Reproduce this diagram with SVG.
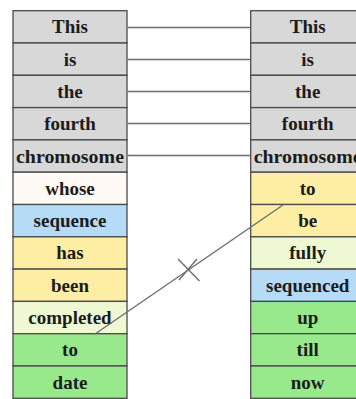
<svg xmlns="http://www.w3.org/2000/svg" width="356" height="399" viewBox="0 0 356 399">
<style>
rect{stroke:#4a4a4a;stroke-width:1.3}
.g{fill:#d8d8d8}.w{fill:#fffaf3}.b{fill:#b6dbf6}.y{fill:#fdeea4}.l{fill:#eef9d3}.n{fill:#97e98c}
text{font-family:"Liberation Serif","Times New Roman",serif;font-weight:bold;font-size:19px;fill:#1c1c1c;text-anchor:middle}
.c line{stroke:#6e6e6e;stroke-width:1.4}
</style>
<rect width="356" height="399" fill="#ffffff" style="stroke:none"/>
<g id="left">
<g id="L1"><rect class="g" x="13" y="10.7" width="114" height="32.3"/><text x="70" y="33.3">This</text></g>
<g id="L2"><rect class="g" x="13" y="43" width="114" height="32.3"/><text x="70" y="65.6">is</text></g>
<g id="L3"><rect class="g" x="13" y="75.3" width="114" height="32.3"/><text x="70" y="97.9">the</text></g>
<g id="L4"><rect class="g" x="13" y="107.6" width="114" height="32.3"/><text x="70" y="130.2">fourth</text></g>
<g id="L5"><rect class="g" x="13" y="139.9" width="114" height="32.3"/><text x="70" y="162.5" textLength="108" lengthAdjust="spacingAndGlyphs">chromosome</text></g>
<g id="L6"><rect class="w" x="13" y="172.2" width="114" height="32.3"/><text x="70" y="194.8">whose</text></g>
<g id="L7"><rect class="b" x="13" y="204.5" width="114" height="32.3"/><text x="70" y="227.1">sequence</text></g>
<g id="L8"><rect class="y" x="13" y="236.8" width="114" height="32.3"/><text x="70" y="259.4">has</text></g>
<g id="L9"><rect class="y" x="13" y="269.1" width="114" height="32.3"/><text x="70" y="291.7">been</text></g>
<g id="L10"><rect class="l" x="13" y="301.4" width="114" height="32.3"/><text x="70" y="324">completed</text></g>
<g id="L11"><rect class="n" x="13" y="333.7" width="114" height="32.3"/><text x="70" y="356.3">to</text></g>
<g id="L12"><rect class="n" x="13" y="366" width="114" height="32.3"/><text x="70" y="388.6">date</text></g>
</g>
<g id="right">
<g id="R1"><rect class="g" x="250.7" y="10.7" width="114" height="32.3"/><text x="307.7" y="33.3">This</text></g>
<g id="R2"><rect class="g" x="250.7" y="43" width="114" height="32.3"/><text x="307.7" y="65.6">is</text></g>
<g id="R3"><rect class="g" x="250.7" y="75.3" width="114" height="32.3"/><text x="307.7" y="97.9">the</text></g>
<g id="R4"><rect class="g" x="250.7" y="107.6" width="114" height="32.3"/><text x="307.7" y="130.2">fourth</text></g>
<g id="R5"><rect class="g" x="250.7" y="139.9" width="114" height="32.3"/><text x="307.7" y="162.5" textLength="108" lengthAdjust="spacingAndGlyphs">chromosome</text></g>
<g id="R6"><rect class="y" x="250.7" y="172.2" width="114" height="32.3"/><text x="307.7" y="194.8">to</text></g>
<g id="R7"><rect class="y" x="250.7" y="204.5" width="114" height="32.3"/><text x="307.7" y="227.1">be</text></g>
<g id="R8"><rect class="l" x="250.7" y="236.8" width="114" height="32.3"/><text x="307.7" y="259.4">fully</text></g>
<g id="R9"><rect class="b" x="250.7" y="269.1" width="114" height="32.3"/><text x="307.7" y="291.7">sequenced</text></g>
<g id="R10"><rect class="n" x="250.7" y="301.4" width="114" height="32.3"/><text x="307.7" y="324">up</text></g>
<g id="R11"><rect class="n" x="250.7" y="333.7" width="114" height="32.3"/><text x="307.7" y="356.3">till</text></g>
<g id="R12"><rect class="n" x="250.7" y="366" width="114" height="32.3"/><text x="307.7" y="388.6">now</text></g>
</g>
<g id="connectors" class="c">
<line x1="127.6" y1="27.5" x2="250" y2="27.5"/>
<line x1="127.6" y1="59.5" x2="250" y2="59.5"/>
<line x1="127.6" y1="91.5" x2="250" y2="91.5"/>
<line x1="127.6" y1="123.5" x2="250" y2="123.5"/>
<line x1="127.6" y1="155.5" x2="250" y2="155.5"/>
<line x1="95" y1="334" x2="283" y2="205"/>
<line x1="178" y1="259" x2="199.5" y2="281"/>
<line x1="179" y1="280" x2="197" y2="259"/>
</g>
</svg>
